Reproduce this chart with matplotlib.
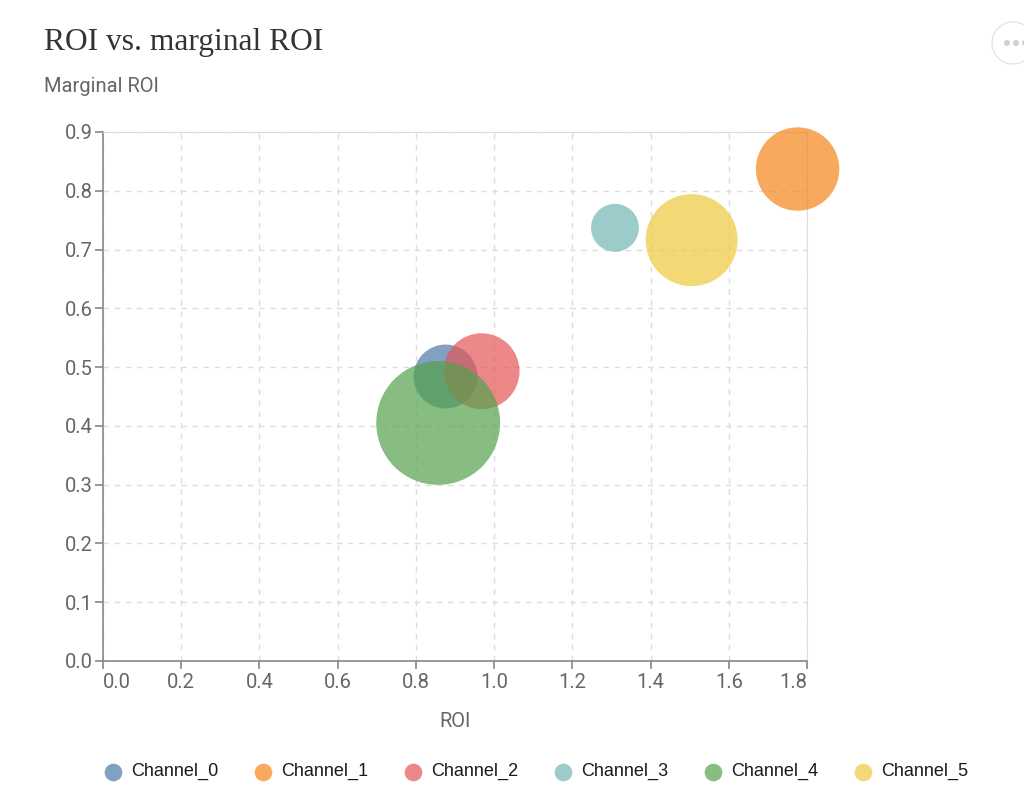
import matplotlib
matplotlib.use('Agg')
from matplotlib import pyplot as plt
from matplotlib.lines import Line2D
from matplotlib.patches import Circle

# data
channels = ['Channel_0', 'Channel_1', 'Channel_2', 'Channel_3', 'Channel_4', 'Channel_5']
roi = [0.876, 1.776, 0.968, 1.309, 0.857, 1.505]
marginal_roi = [0.484, 0.837, 0.493, 0.737, 0.405, 0.716]
spend = [1.00, 1.70, 1.41, 0.56, 3.75, 2.07]   # relative bubble size (area)
colors = ['#4c78a8', '#f58518', '#e45756', '#72b7b2', '#54a24b', '#eeca3b']

x_ticks = [0.0, 0.2, 0.4, 0.6, 0.8, 1.0, 1.2, 1.4, 1.6, 1.8]
y_ticks = [0.0, 0.1, 0.2, 0.3, 0.4, 0.5, 0.6, 0.7, 0.8, 0.9]

W, H = 1024, 799
fig = plt.figure(figsize=(W / 100, H / 100), dpi=100)
ax = fig.add_axes([103 / W, 1 - 661 / H, 704 / W, 529 / H])

size_scale = 2120
ax.scatter(roi, marginal_roi, s=[v * size_scale for v in spend], c=colors,
           alpha=0.7, linewidths=0, zorder=3, clip_on=False)

ax.set_xlim(0, 1.8)
ax.set_ylim(0, 0.9)
ax.set_xticks(x_ticks)
ax.set_yticks(y_ticks)
ax.set_xticklabels([f'{v:.1f}' for v in x_ticks])
ax.set_yticklabels([f'{v:.1f}' for v in y_ticks])

roboto = ['Roboto', 'DejaVu Sans']
for lab in ax.get_xticklabels() + ax.get_yticklabels():
    lab.set_fontfamily(roboto)
    lab.set_fontsize(14.5)
    lab.set_color('#666666')
xl = ax.get_xticklabels()
xl[0].set_horizontalalignment('left')
xl[-1].set_horizontalalignment('right')

ax.tick_params(axis='both', colors='#888888', length=6, width=1.2, labelcolor='#666666')
ax.tick_params(axis='x', pad=3)
ax.tick_params(axis='y', pad=1.5)

ax.grid(True, linestyle=(0, (4, 4)), color='#dddddd', linewidth=1, zorder=0)
ax.set_axisbelow(True)
for side in ['left', 'bottom']:
    ax.spines[side].set_color('#888888')
    ax.spines[side].set_linewidth(1.2)
for side in ['top', 'right']:
    ax.spines[side].set_color('#dddddd')

ax.set_xlabel('ROI', fontfamily=roboto, fontsize=14.5, color='#666666', labelpad=14)

fig.text(44 / W, 1 - 50 / H, 'ROI vs. marginal ROI', fontfamily=['Liberation Serif', 'DejaVu Serif'],
         fontsize=22.7, color='#333333', ha='left', va='baseline')
fig.text(44 / W, 1 - 92 / H, 'Marginal ROI', fontfamily=roboto,
         fontsize=14.5, color='#666666', ha='left', va='baseline')

# legend along the bottom
leg_y = 1 - 771.5 / H
for i, (name, col) in enumerate(zip(channels, colors)):
    x0 = (112.7 + 150 * i) / W
    fig.add_artist(Line2D([x0], [leg_y], marker='o', markersize=12.7, color=col,
                          alpha=0.7, markeredgewidth=0, linestyle='none',
                          transform=fig.transFigure))
    fig.text(x0 + 18 / W, leg_y, name, fontfamily=['Liberation Sans', 'DejaVu Sans'],
             fontsize=13, color='#1a1a1a', ha='left', va='center')

# menu button in the top-right corner
fig.add_artist(Circle((1013, H - 43), 21, transform=None, facecolor='white',
                      edgecolor='#e6e6e6', linewidth=1))
for dx in [1007, 1016, 1025]:
    fig.add_artist(Circle((dx, H - 43), 3, transform=None, facecolor='#d0d0d0',
                          edgecolor='none'))

fig.savefig('out.png', dpi=100)
